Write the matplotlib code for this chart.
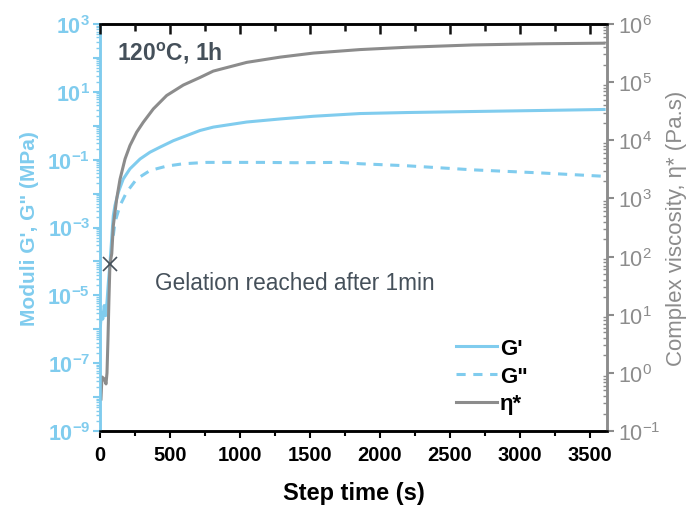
import matplotlib.pyplot as plt
from matplotlib.ticker import LogLocator, FixedLocator, MultipleLocator, FuncFormatter, NullFormatter
import numpy as np

plt.rcParams['font.family'] = 'Liberation Sans'
plt.rcParams['mathtext.fontset'] = 'custom'
plt.rcParams['mathtext.rm'] = 'Liberation Sans'
plt.rcParams['mathtext.bf'] = 'Liberation Sans:bold'

blue = '#80ccee'
grey = '#8c8c8c'
dark = '#45505a'

# storage modulus G' (MPa), log10 values
t_g1 = [3, 10, 20, 30, 40, 50, 60, 71, 84, 95, 107, 131, 166, 214, 286, 357, 429, 524,
        619, 714, 809, 1048, 1286, 1524, 1857, 2193, 2664, 3143, 3600]
log_g1 = [-5.9, -5.5, -5.7, -5.3, -5.6, -5.2, -4.6, -4.07, -3.3, -2.65, -2.35, -1.96,
          -1.57, -1.27, -0.98, -0.78, -0.63, -0.44, -0.29, -0.14, -0.04, 0.11, 0.2, 0.28,
          0.36, 0.39, 0.42, 0.45, 0.48]

# loss modulus G'' (MPa)
t_g2 = [95, 107, 143, 190, 262, 357, 476, 595, 762, 914, 1157, 1393, 1714, 1857, 2193,
        2664, 3143, 3600]
log_g2 = [-3.24, -2.84, -2.35, -1.96, -1.57, -1.32, -1.19, -1.12, -1.08, -1.08, -1.08,
          -1.09, -1.08, -1.12, -1.18, -1.3, -1.39, -1.49]

# complex viscosity (Pa.s)
t_eta = [7, 14, 29, 43, 50, 57, 64, 71, 84, 95, 119, 143, 179, 214, 262, 309, 381, 476,
         595, 714, 809, 1048, 1286, 1524, 1857, 2193, 2664, 3143, 3600]
log_eta = [-0.45, -0.07, -0.1, -0.19, 0.0, 0.58, 1.27, 1.87, 2.05, 2.53, 2.99, 3.33,
           3.68, 3.91, 4.14, 4.31, 4.54, 4.77, 4.95, 5.08, 5.19, 5.34, 5.43, 5.5, 5.56,
           5.6, 5.64, 5.66, 5.67]

gel_t = 71
gel_eta = 74

fig = plt.figure(figsize=(6.92, 5.06), dpi=100)
ax = fig.add_axes([0.1445, 0.1462, 0.7325, 0.8044])
ax2 = ax.twinx()

l1, = ax.plot(t_g1, 10 ** np.array(log_g1), color=blue, lw=2.2, label="G'")
l2, = ax.plot(t_g2, 10 ** np.array(log_g2), color=blue, lw=2.2, ls=(0, (3, 2.5)), label='G"')
l3, = ax2.plot(t_eta, 10 ** np.array(log_eta), color=grey, lw=2.2, label='η*')
ax2.plot(gel_t, gel_eta, marker='x', color=dark, ms=10, mew=1.2)

ax.set_yscale('log')
ax2.set_yscale('log')
ax.set_xlim(0, 3620)
ax.set_ylim(1e-9, 1e3)
ax2.set_ylim(1e-1, 1e6)

# x axis, bottom ticks out
ax.xaxis.set_major_locator(MultipleLocator(500))
ax.xaxis.set_minor_locator(MultipleLocator(250))
ax.tick_params(axis='x', which='both', direction='out', width=1.5, labelsize=14.5, pad=5)
ax.tick_params(axis='x', which='major', length=5)
ax.tick_params(axis='x', which='minor', length=3.5)
for lab in ax.get_xticklabels():
    lab.set_fontweight('bold')
ax.set_xlabel('Step time (s)', fontsize=17, fontweight='bold', labelpad=12)

# top ticks pointing in, on an overlay axes
axt = fig.add_axes(ax.get_position(), frameon=False, sharex=ax)
axt.yaxis.set_visible(False)
axt.xaxis.set_ticks_position('top')
axt.tick_params(axis='x', which='both', top=True, bottom=False, direction='in',
                labeltop=False, labelbottom=False, width=1.8, color='#111111')
axt.tick_params(axis='x', which='major', length=7)
axt.tick_params(axis='x', which='minor', length=5)

# left axis
ax.yaxis.set_major_locator(FixedLocator([10.0 ** k for k in range(-9, 4)]))
ax.yaxis.set_minor_locator(LogLocator(base=10, subs=np.arange(2, 10), numticks=40))
ax.yaxis.set_minor_formatter(NullFormatter())
ax.yaxis.set_major_formatter(FuncFormatter(
    lambda v, p: r'$\mathbf{10^{%d}}$' % round(np.log10(v)) if round(np.log10(v)) % 2 else ''))
ax.tick_params(axis='y', which='major', colors=blue, length=5, width=1.5, labelsize=15.5, pad=2)
ax.tick_params(axis='y', which='minor', colors=blue, length=3, width=1)
ax.set_ylabel("Moduli G', G\" (MPa)", color=blue, fontsize=15, fontweight='bold', labelpad=6)

# right axis
ax2.yaxis.set_major_locator(FixedLocator([10.0 ** k for k in range(-1, 7)]))
ax2.yaxis.set_minor_locator(LogLocator(base=10, subs=np.arange(2, 10), numticks=40))
ax2.yaxis.set_minor_formatter(NullFormatter())
ax2.yaxis.set_major_formatter(FuncFormatter(lambda v, p: r'$10^{%d}$' % round(np.log10(v))))
ax2.tick_params(axis='y', which='major', colors=grey, length=5, width=1.5, labelsize=15.5, pad=3)
ax2.tick_params(axis='y', which='minor', colors=grey, direction='in', length=3, width=1)
ax2.set_ylabel('Complex viscosity, η* (Pa.s)', color=grey, fontsize=16, labelpad=4)

for a in (ax, ax2):
    a.spines['left'].set_color(blue)
    a.spines['right'].set_color(grey)
    a.spines['bottom'].set_color('black')
    a.spines['top'].set_color('black')
    for s in a.spines.values():
        s.set_linewidth(1.8)

ax.text(0.034, 0.931, r'120$^{\mathbf{o}}$C, 1h', transform=ax.transAxes, fontsize=16.5,
        fontweight='bold', color=dark, va='center')
ax.text(0.108, 0.366, 'Gelation reached after 1min', transform=ax.transAxes, fontsize=16.3,
        color=dark, va='center')

leg = ax2.legend(handles=[l1, l2, l3], loc='lower left', bbox_to_anchor=(0.702, 0.041),
                 frameon=False, fontsize=16, handlelength=1.85, handletextpad=0.15,
                 labelspacing=0.3, borderpad=0, borderaxespad=0)
for txt in leg.get_texts():
    txt.set_fontweight('bold')

fig.savefig('out.png', dpi=100)
